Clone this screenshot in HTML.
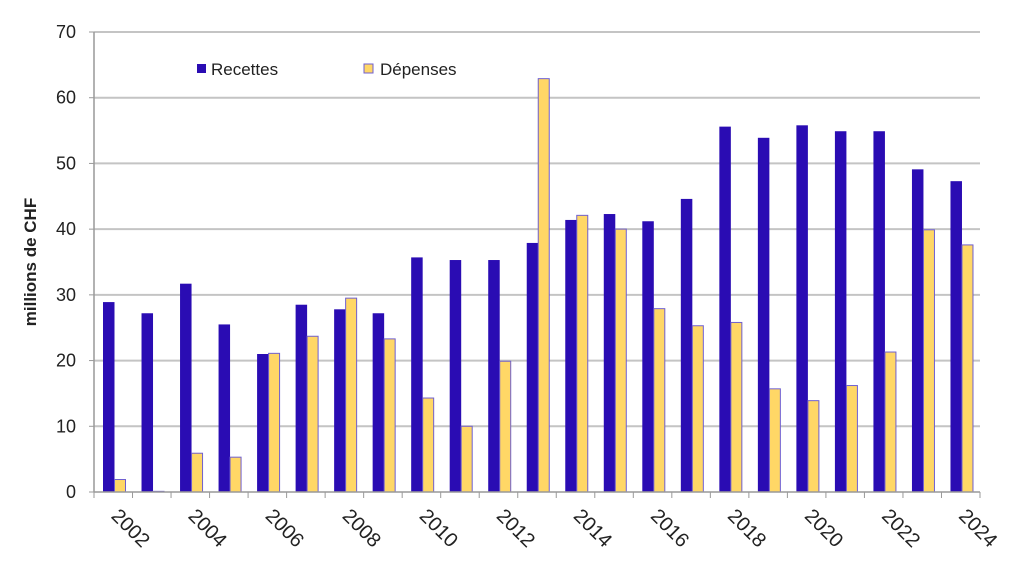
<!DOCTYPE html>
<html><head><meta charset="utf-8"><style>
body{margin:0;background:#fff}
svg{display:block}
text{font-family:"Liberation Sans",sans-serif;fill:#222}
</style></head><body>
<svg width="1024" height="578" xmlns="http://www.w3.org/2000/svg">
<g id="g"></g>
</svg>
<script>
const R=[28.9,27.2,31.7,25.5,21,28.5,27.8,27.2,35.7,35.3,35.3,37.9,41.4,42.3,41.2,44.6,55.6,53.9,55.8,54.9,54.9,49.1,47.3];
const D=[1.9,0.1,5.9,5.3,21.1,23.7,29.5,23.3,14.3,10,19.9,62.9,42.1,40,27.9,25.3,25.8,15.7,13.9,16.2,21.3,39.9,37.6];
const x0=94,x1=980,y0=492,k=460/70,cw=(x1-x0)/23;
let s='';
for(let v=10;v<=70;v+=10){const y=y0-v*k;s+=`<line x1="${x0}" x2="${x1}" y1="${y}" y2="${y}" stroke="#c4c4c4" stroke-width="2"/>`;}
for(let v=0;v<=70;v+=10){const y=y0-v*k;s+=`<text x="76" y="${y+6}" font-size="18" text-anchor="end">${v}</text><line x1="89" x2="94" y1="${y}" y2="${y}" stroke="#999"/>`;}
s+=`<line x1="${x0}" x2="${x0}" y1="32" y2="${y0}" stroke="#999" stroke-width="1.5"/>`;
for(let i=0;i<23;i++){
 const cx=x0+i*cw;
 const hr=R[i]*k,hd=D[i]*k;
 s+=`<rect x="${cx+9}" y="${y0-hr}" width="11.5" height="${hr}" fill="#2a0cb3"/>`;
 s+=`<rect x="${cx+20.5}" y="${y0-hd}" width="11" height="${hd}" fill="#ffd766" stroke="#6f5fd0" stroke-width="1"/>`;
 if(i%2==0){const tx=cx+cw/2-3;s+=`<text transform="translate(${tx},517) rotate(45)" font-size="20">${2002+i}</text>`;}
}
for(let i=0;i<=23;i++){const x=x0+i*cw;s+=`<line x1="${x}" x2="${x}" y1="${y0}" y2="${y0+6}" stroke="#999"/>`;}
s+=`<line x1="${x0}" x2="${x1}" y1="${y0}" y2="${y0}" stroke="#999" stroke-width="1.5"/>`;
s+=`<text transform="translate(36,262) rotate(-90)" font-size="17" font-weight="bold" text-anchor="middle">millions de CHF</text>`;
s+=`<rect x="197" y="64" width="9" height="9" fill="#2a0cb3"/><text x="211" y="75" font-size="17">Recettes</text>`;
s+=`<rect x="364" y="64" width="9" height="9" fill="#ffd766" stroke="#6f5fd0"/><text x="380" y="75" font-size="17">Dépenses</text>`;
document.getElementById('g').innerHTML=s;
</script>
</body></html>
